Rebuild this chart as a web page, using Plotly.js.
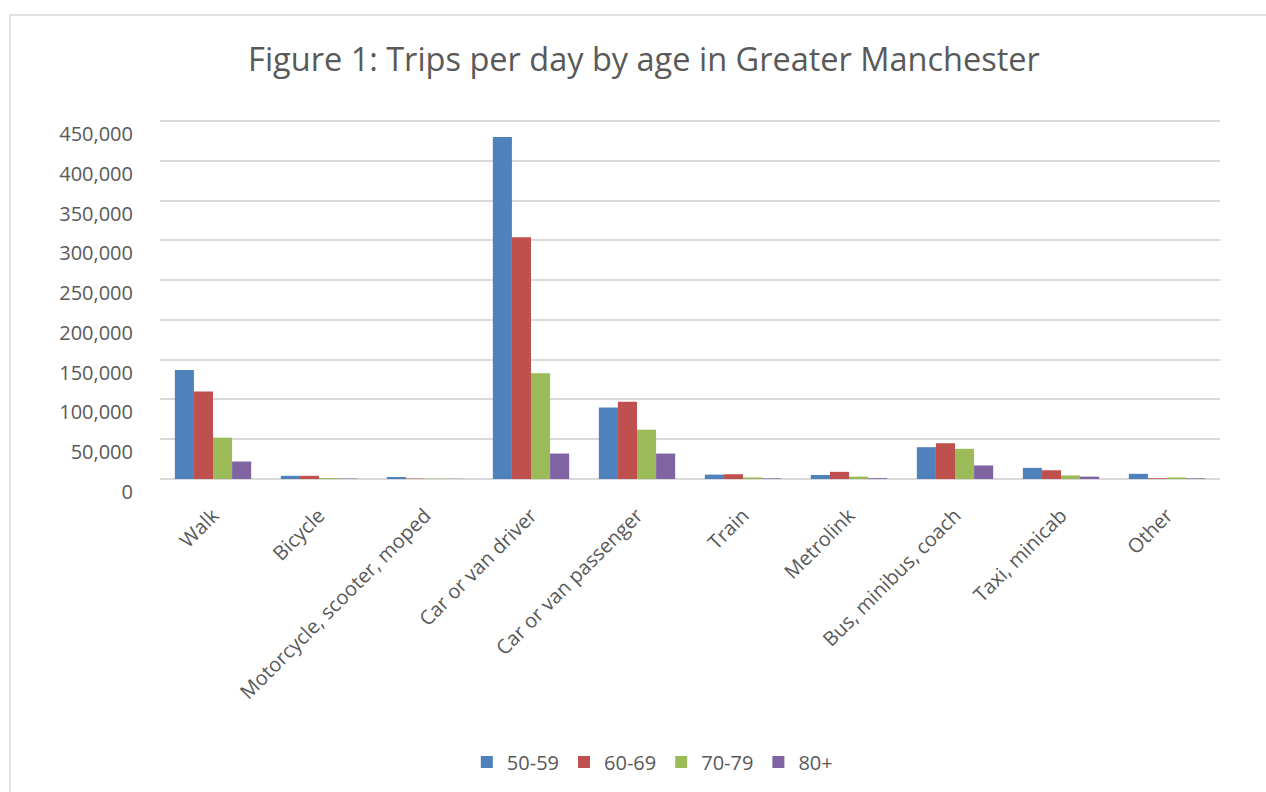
<!DOCTYPE html>
<html>
<head>
<meta charset="utf-8">
<script src="https://cdn.plot.ly/plotly-3.0.1.min.js"></script>
<style>html,body{margin:0;padding:0;background:#fff;}#chart{width:1266px;height:792px;}</style>
</head>
<body>
<div id="chart"></div>
<script>
const categories = ["Walk","Bicycle","Motorcycle, scooter, moped","Car or van driver","Car or van passenger","Train","Metrolink","Bus, minibus, coach","Taxi, minicab","Other"];
const seriesNames = ["50-59","60-69","70-79","80+"];
const age5059 = [137000, 4000, 2500, 430000, 90000, 5500, 5000, 40000, 14000, 6500];
const age6069 = [110000, 4000, 500, 304000, 97000, 6000, 9000, 45000, 11000, 1000];
const age7079 = [52000, 1200, 500, 133000, 62000, 2000, 3000, 38000, 4500, 2000];
const age80 = [22000, 500, 300, 32000, 32000, 800, 1000, 17000, 3000, 800];
const colors = ["#4f81bd","#c0504d","#9bbb59","#8064a2"];
const values = [age5059, age6069, age7079, age80];

const traces = values.map((v, i) => ({
  type: "bar",
  name: seriesNames[i],
  x: categories,
  y: v,
  marker: {color: colors[i], line: {width: 0}},
  hoverinfo: "x+y+name"
}));

const W = 1266, H = 792;
const M = {l: 160, r: 46, t: 120, b: 313};
const pw = W - M.l - M.r, ph = H - M.t - M.b;
const fam = "Open Sans, Noto Sans, sans-serif";

const layout = {
  width: W, height: H,
  paper_bgcolor: "#ffffff", plot_bgcolor: "#ffffff",
  font: {family: fam, color: "#595959", size: 20},
  title: {text: "Figure 1: Trips per day by age in Greater Manchester", x: 644 / W, xanchor: "center",
          y: 1 - 60 / H, yanchor: "middle", yref: "container",
          font: {size: 32.5, color: "#595959", family: fam}},
  margin: M,
  barmode: "group", bargap: 0.28, bargroupgap: 0,
  xaxis: {type: "category", tickangle: -45, showgrid: false, showline: false, ticks: "",
          automargin: false, ticklabelstandoff: 20,
          tickfont: {size: 20, color: "#595959", family: fam}},
  yaxis: {range: [0, 451500], tickvals: [0, 50000, 100000, 150000, 200000, 250000, 300000, 350000, 400000, 450000],
          tickformat: ",d", showgrid: true, gridcolor: "#d9d9d9", gridwidth: 2,
          zeroline: true, zerolinecolor: "#d9d9d9", zerolinewidth: 2, showline: false, ticks: "",
          automargin: false, ticklabelstandoff: 26, ticklabelshift: 13,
          tickfont: {size: 20, color: "#595959", family: fam}},
  legend: {orientation: "h", x: 588 / W, xanchor: "center", y: 1 - 762 / H, yanchor: "middle", yref: "container",
           font: {size: 20, color: "#595959", family: fam}, traceorder: "normal", itemwidth: 30},
  shapes: [{type: "rect", xref: "paper", yref: "paper",
            x0: (10 - M.l) / pw, x1: (W + 5 - M.l) / pw,
            y0: -(M.b + 5) / ph, y1: (H - M.b - 15) / ph,
            line: {color: "#d9d9d9", width: 1.5}, fillcolor: "rgba(0,0,0,0)", layer: "below"}],
  showlegend: true
};

Plotly.newPlot("chart", traces, layout, {displayModeBar: false, staticPlot: true});
</script>
</body>
</html>
